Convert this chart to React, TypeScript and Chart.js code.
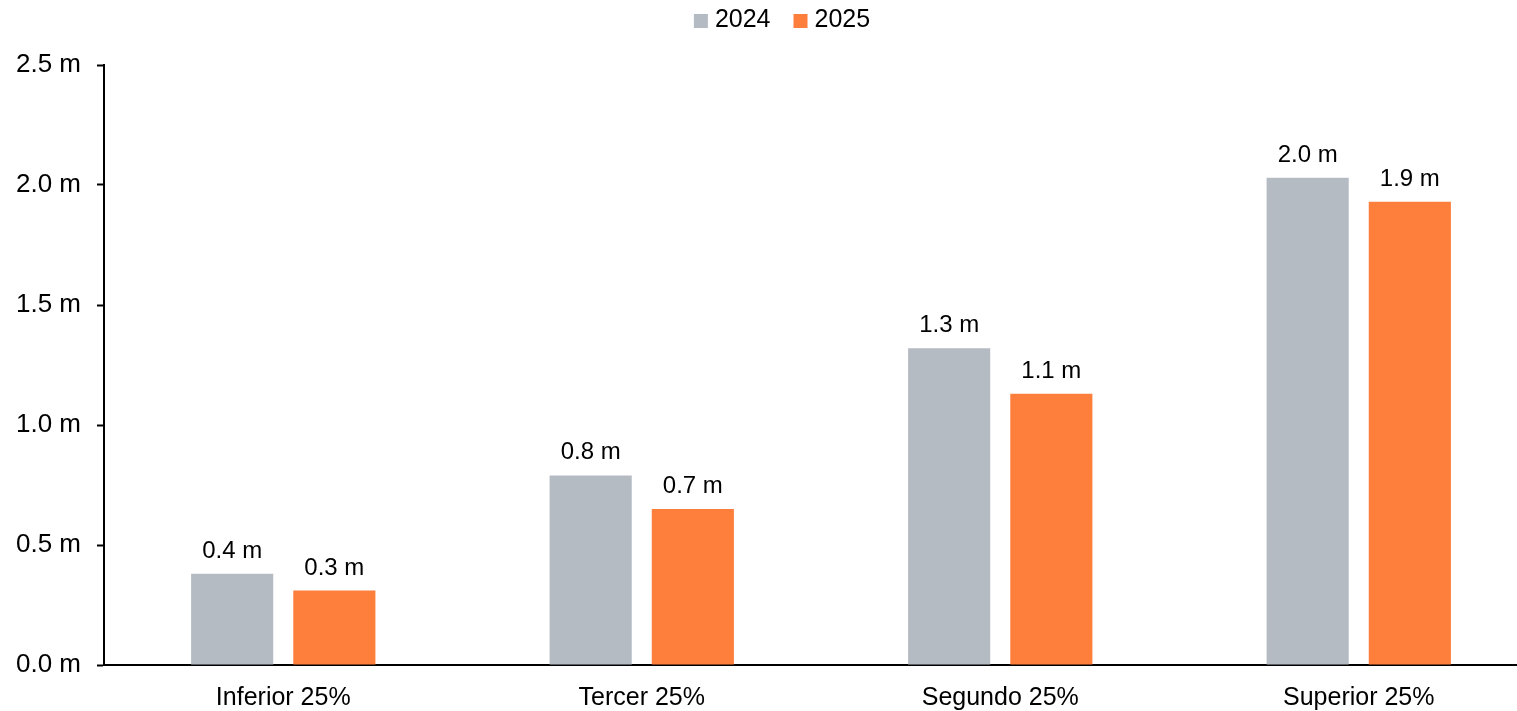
import React, { useEffect, useRef } from "react";
import { Chart, registerables } from "chart.js";

Chart.register(...registerables);

const categories = ["Inferior 25%", "Tercer 25%", "Segundo 25%", "Superior 25%"];
const series2024 = [0.38, 0.79, 1.32, 2.03];
const series2025 = [0.31, 0.65, 1.13, 1.93];
const labels2024 = ["0.4 m", "0.8 m", "1.3 m", "2.0 m"];
const labels2025 = ["0.3 m", "0.7 m", "1.1 m", "1.9 m"];
const seriesNames = ["2024", "2025"];
const yTicksMax = 2.5;
const yStep = 0.5;

const GRAY = "#B5BBC3";
const ORANGE = "#FE7F3C";
const FONT = "'Liberation Sans', Arial, sans-serif";
const CANVAS_W = 1564;
const CANVAS_H = 711;

const customLegendPlugin = {
  id: "customLegend",
  afterDraw(chart: any) {
    const ctx = chart.ctx;
    const ds = chart.data.datasets;
    ctx.save();
    ctx.font = `25px ${FONT}`;
    const box = 14;
    const boxGap = 7;
    const itemGap = 23;
    const widths = ds.map((d: any) => ctx.measureText(d.label).width);
    let total = 0;
    widths.forEach((w: number, i: number) => {
      total += box + boxGap + w + (i < widths.length - 1 ? itemGap : 0);
    });
    let x = chart.width / 2 - total / 2;
    const cy = 20;
    ctx.textBaseline = "middle";
    ctx.textAlign = "left";
    ds.forEach((d: any, i: number) => {
      ctx.fillStyle = d.backgroundColor;
      ctx.fillRect(x, cy - box / 2 + 1, box, box);
      x += box + boxGap;
      ctx.fillStyle = "#000";
      ctx.fillText(d.label, x, cy);
      x += widths[i] + itemGap;
    });
    ctx.restore();
  },
};

const valueLabelPlugin = {
  id: "valueLabels",
  afterDatasetsDraw(chart: any) {
    const ctx = chart.ctx;
    const allLabels = [labels2024, labels2025];
    ctx.save();
    ctx.font = `24px ${FONT}`;
    ctx.fillStyle = "#000";
    ctx.textAlign = "center";
    ctx.textBaseline = "alphabetic";
    chart.data.datasets.forEach((_ds: any, di: number) => {
      const meta = chart.getDatasetMeta(di);
      meta.data.forEach((bar: any, i: number) => {
        ctx.fillText(allLabels[di][i], bar.x, bar.y - 16);
      });
    });
    ctx.restore();
  },
};

export default function App() {
  const ref = useRef<HTMLCanvasElement | null>(null);
  useEffect(() => {
    document.body.style.margin = "0";
    document.body.style.overflow = "hidden";
    if (!ref.current) return;
    const chart = new Chart(ref.current, {
      type: "bar",
      data: {
        labels: categories,
        datasets: [
          {
            label: seriesNames[0],
            data: series2024,
            backgroundColor: GRAY,
            categoryPercentage: 0.57,
            barPercentage: 0.804,
          },
          {
            label: seriesNames[1],
            data: series2025,
            backgroundColor: ORANGE,
            categoryPercentage: 0.57,
            barPercentage: 0.804,
          },
        ],
      },
      options: {
        animation: false,
        responsive: false,
        maintainAspectRatio: false,
        layout: { padding: { left: 0, right: CANVAS_W - 1538, top: 65, bottom: 0 } },
        plugins: {
          legend: { display: false },
          tooltip: { enabled: false },
        },
        scales: {
          x: {
            grid: { display: false, drawTicks: false },
            border: { color: "#000", width: 2 },
            ticks: {
              color: "#000",
              padding: 18,
              font: { size: 25, family: FONT },
              maxRotation: 0,
            },
            afterFit(scale: any) {
              scale.height = 46;
            },
          },
          y: {
            min: 0,
            max: yTicksMax,
            grid: {
              drawOnChartArea: false,
              drawTicks: true,
              tickLength: 7,
              tickWidth: 2,
              tickColor: "#000",
            },
            border: { color: "#000", width: 2 },
            ticks: {
              stepSize: yStep,
              color: "#000",
              padding: 16,
              font: { size: 26, family: FONT },
              callback: (v: any) => Number(v).toFixed(1) + " m",
            },
            afterFit(scale: any) {
              scale.width = 104;
            },
          },
        },
      },
      plugins: [customLegendPlugin, valueLabelPlugin],
    } as any);
    return () => chart.destroy();
  }, []);
  return (
    <div
      style={{
        position: "fixed",
        left: 0,
        top: 0,
        width: 1517,
        height: 711,
        overflow: "hidden",
        background: "#fff",
      }}
    >
      <canvas
        ref={ref}
        width={CANVAS_W}
        height={CANVAS_H}
        style={{ display: "block", width: CANVAS_W, height: CANVAS_H }}
      />
    </div>
  );
}
